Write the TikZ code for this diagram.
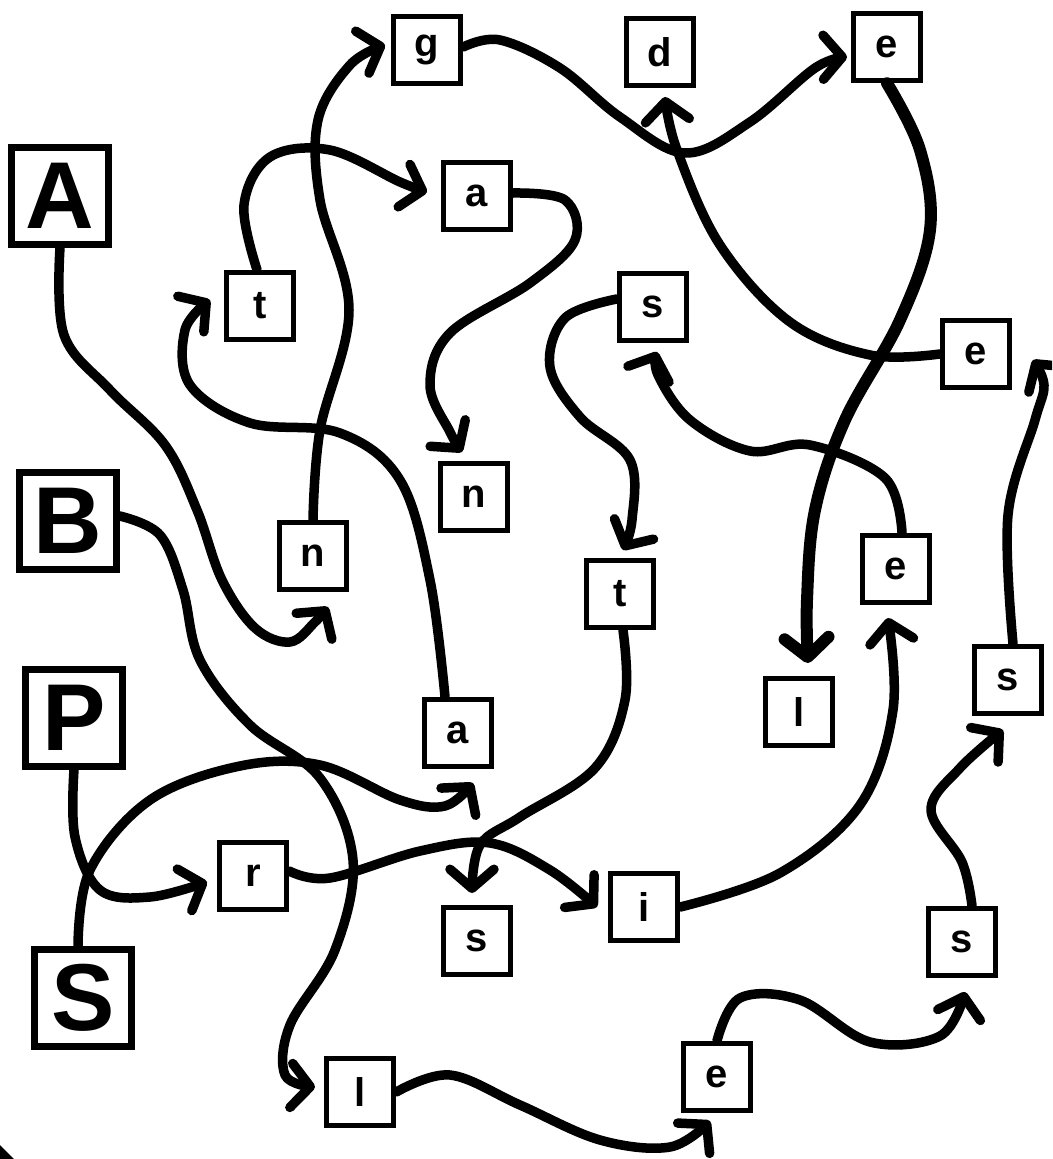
\documentclass[tikz,border=0pt]{standalone}
\usepackage{fontspec}
\setmainfont{Liberation Sans}
\usetikzlibrary{arrows.meta}
\begin{document}
\begin{tikzpicture}[x=1pt,y=-1pt,
  big/.style={draw,line width=6.5pt,minimum size=97pt,inner sep=0pt,font=\fontsize{95}{95}\selectfont\bfseries},
  sm/.style={draw,line width=5.5pt,minimum size=67pt,inner sep=0pt,font=\fontsize{40}{40}\selectfont\bfseries},
  conn/.style={line width=9.5pt,line cap=round,line join=round,-{Straight Barb[length=19pt,width=44pt,round]}},
  thickconn/.style={conn,line width=12pt},
  sm curve/.style={smooth,tension=0.6},
]
\clip (0,0) rectangle (1052,1159);
\fill[white] (0,0) rectangle (1052,1159);
% big start letters
\node[big] (A) at (60,196) {A};
\node[big] (B) at (68,521) {B};
\node[big] (P) at (74,718) {P};
\node[big] (S) at (83,998) {S};
% small letters
\node[sm] (g) at (427,50) {g};
\node[sm] (d) at (660,52) {d};
\node[sm] (e1) at (887,47) {e};
\node[sm] (a1) at (477,196) {a};
\node[sm] (t1) at (260,306) {t};
\node[sm] (s2) at (653,307) {s};
\node[sm] (e2) at (976,354) {e};
\node[sm] (n1) at (474,497) {n};
\node[sm] (n2) at (313,556) {n};
\node[sm] (a2) at (458,733) {a};
\node[sm] (t2) at (620,594) {t};
\node[sm] (e4) at (896,569) {e};
\node[sm] (l1) at (799,712) {l};
\node[sm] (s3) at (1008,680) {s};
\node[sm] (r) at (253,876) {r};
\node[sm] (s5) at (477,941) {s};
\node[sm] (i) at (644,907) {i};
\node[sm] (s4) at (962,942) {s};
\node[sm] (e3) at (717,1077) {e};
\node[sm] (l2) at (360,1092) {l};
% A n g e l
\draw[conn] plot[sm curve] coordinates {(A.south) (64,335) (110,390) (165,445) (197,510) (222,580) (255,628) (290,642) (315,622) ([shift={(15,51)}]n2.center)};
\draw[conn] plot[sm curve] coordinates {(n2.north) (320,430) (349,310) (320,200) (318,120) (350,65) ([shift={(-42,-5)}]g.center)};
\draw[conn] plot[sm curve] coordinates {([yshift=3pt]g.east) (500,40) (560,68) (620,117) (685,153) (750,122) (815,68) ([shift={(-40,10)}]e1.center)};
\draw[thickconn] plot[sm curve] coordinates {(e1.south) (920,150) (930,230) (900,320) (845,420) (815,510) (807,600) ([shift={(9,-49)}]l1.center)};
% B l e s s e d
\draw[conn] plot[sm curve] coordinates {([yshift=5pt]B.east) (160,535) (183,590) (200,660) (250,725) (320,778) (353,860) (335,950) (290,1025) (285,1075) ([shift={(-45,-5)}]l2.center)};
\draw[conn] plot[sm curve] coordinates {(l2.east) (450,1075) (520,1105) (600,1140) (670,1147) ([shift={(-7,44)}]e3.center)};
\draw[conn] plot[sm curve] coordinates {(e3.north) (740,998) (800,1000) (870,1042) (940,1036) ([shift={(3,50)}]s4.center)};
\draw[conn] plot[sm curve] coordinates {([xshift=10pt]s4.north) (962,862) (931,810) (960,768) ([shift={(-5,50)}]s3.center)};
\draw[conn] plot[sm curve] coordinates {([xshift=5pt]s3.north) (1008,515) (1035,420) (1044,385) ([shift={(57,6)}]e2.center)};
\draw[conn] plot[sm curve] coordinates {(e2.west) (870,355) (790,322) (720,245) (677,150) ([shift={(5,45)}]d.center)};
% P r i e s t s
\draw[conn] plot[sm curve] coordinates {(P.south) (75,837) (100,890) (150,897) ([shift={(-46,6)}]r.center)};
\draw[conn] plot[sm curve] coordinates {([yshift=5pt]r.east) (330,878) (420,851) (490,843) (550,870) ([shift={(-47,0)}]i.center)};
\draw[conn] plot[sm curve] coordinates {(i.east) (780,873) (860,805) (893,710) ([shift={(-8,49)}]e4.center)};
\draw[conn] plot[sm curve] coordinates {([xshift=6pt]e4.north) (885,478) (810,445) (750,451) (690,420) (658,375) ([shift={(4,45)}]s2.center)};
\draw[conn] plot[sm curve] coordinates {([yshift=8pt]s2.west) (565,318) (550,367) (580,417) (630,460) (632,520) ([shift={(3,-44)}]t2.center)};
\draw[conn] plot[sm curve] coordinates {([xshift=3pt]t2.south) (625,700) (595,768) (520,817) (480,845) ([shift={(-5,-48)}]s5.center)};
% S a t a n
\draw[conn] plot[sm curve] coordinates {([xshift=-5pt]S.north) (90,870) (150,800) (240,766) (320,765) (400,800) (445,806) ([shift={(15,50)}]a2.center)};
\draw[conn] plot[sm curve] coordinates {([xshift=-13pt]a2.north) (430,580) (400,480) (340,433) (250,423) (190,385) (185,330) ([shift={(-50,-6)}]t1.center)};
\draw[conn] plot[sm curve] coordinates {([xshift=-3pt]t1.north) (244,205) (270,157) (330,150) (400,182) ([shift={(-50,-4)}]a1.center)};
\draw[conn] plot[sm curve] coordinates {([yshift=3pt]a1.east) (565,200) (575,240) (530,283) (450,333) (430,385) (450,432) ([shift={(-12,-45)}]n1.center)};
% scan corner
\fill (0,1145) .. controls (5,1150) .. (14,1159) -- (0,1159) -- cycle;
\end{tikzpicture}
\end{document}
